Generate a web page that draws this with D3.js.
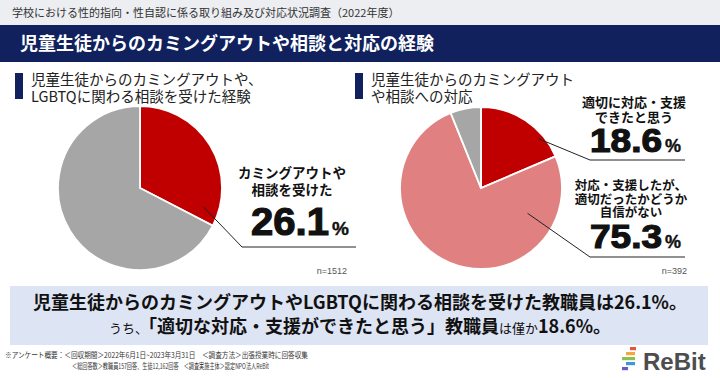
<!DOCTYPE html>
<html><head><meta charset="utf-8">
<script src="https://cdn.jsdelivr.net/npm/d3@7"></script>
<style>
html,body{margin:0;padding:0;background:#fff;}
svg{display:block;}
</style></head>
<body>
<svg id="c" width="720" height="378"></svg>
<script>
// ---------- data ----------
const topCaption = "学校における性的指向・性自認に係る取り組み及び対応状況調査（2022年度）";
const mainTitle = "児童生徒からのカミングアウトや相談と対応の経験";
const leftTitle = ["児童生徒からのカミングアウトや、", "LGBTQに関わる相談を受けた経験"];
const rightTitle = ["児童生徒からのカミングアウト", "や相談への対応"];
const leftCategories = ["カミングアウトや相談を受けた", "受けていない"];
const leftShares = [32.6, 67.4];          // slice sizes as drawn in the picture
const leftLabelLines = ["カミングアウトや", "相談を受けた"];
const leftValue = "26.1";
const leftN = "n=1512";
const rightCategories = ["適切に対応・支援できたと思う", "自信がない", "その他"];
const rightShares = [18.6, 75.3, 6.1];
const rightLabelLines1 = ["適切に対応・支援", "できたと思う"];
const rightValue1 = "18.6";
const rightLabelLines2 = ["対応・支援したが、", "適切だったかどうか", "自信がない"];
const rightValue2 = "75.3";
const rightN = "n=392";
const summary1 = "児童生徒からのカミングアウトやLGBTQに関わる相談を受けた教職員は26.1%。";
const summary2 = [["うち、", false], ["「適切な対応・支援ができたと思う」教職員", true], ["は僅か", false], ["18.6%。", true]];
const footer1 = "※アンケート概要：＜回収期間＞2022年6月1日~2023年3月31日　＜調査方法＞出張授業時に回答収集";
const footer2 = "＜総回答数＞教職員157回答、生徒12,162回答　＜調査実施主体＞認定NPO法人ReBit";

// ---------- styles ----------
const JP = "'Noto Sans CJK JP','Noto Sans',sans-serif";
const NUM = "'Liberation Sans',Arial,sans-serif";
const NAVY = "#10215e";
const svg = d3.select("#c");

// top caption band
svg.append("rect").attr("x",0).attr("y",0).attr("width",720).attr("height",25).attr("fill","#eceef2");
svg.append("text").attr("x",12).attr("y",17).attr("font-family",JP).attr("font-size",11)
  .attr("fill","#333").text(topCaption);
// navy title band
svg.append("rect").attr("x",0).attr("y",25).attr("width",720).attr("height",37).attr("fill",NAVY);
svg.append("text").attr("x",20).attr("y",50).attr("font-family",JP).attr("font-weight",700)
  .attr("font-size",18).attr("fill","#fff").text(mainTitle);

// section headers
function header(x, lines){
  svg.append("rect").attr("x",x).attr("y",73).attr("width",8).attr("height",26).attr("fill",NAVY);
  lines.forEach((l,i)=>svg.append("text").attr("x",x+16).attr("y",85+i*16.5)
    .attr("font-family",JP).attr("font-size",14.5).attr("fill","#222").text(l));
}
header(15, leftTitle);
header(355, rightTitle);

// ---------- pies ----------
const pie = d3.pie().sort(null).value(d=>d.v);
function drawPie(cx, cy, r, cats, shares, colors){
  const data = cats.map((c,i)=>({c, v:shares[i]}));
  const arcs = pie(data);
  const arc = d3.arc().innerRadius(0).outerRadius(r);
  const g = svg.append("g").attr("transform",`translate(${cx},${cy})`);
  g.selectAll("path").data(arcs).join("path").attr("d",arc)
    .attr("fill",(d,i)=>colors[i]).attr("stroke","#fff").attr("stroke-width",1.8);
  return arcs;
}
const leftArcs = drawPie(140, 188, 82, leftCategories, leftShares, ["#c00000","#a6a6a6"]);
const rightArcs = drawPie(481, 188, 81, rightCategories, rightShares, ["#c00000","#e08080","#a6a6a6"]);

function pointOn(cx, cy, r, a){ return [cx + r*Math.sin(a), cy - r*Math.cos(a)]; }
function leader(p, kneeX, y, endX){
  svg.append("path").attr("d",`M${p[0]},${p[1]}L${kneeX},${y}L${endX},${y}`)
    .attr("fill","none").attr("stroke","#222").attr("stroke-width",1);
}
leader(pointOn(140,188,66, leftArcs[0].endAngle - 0.19), 242, 247, 356);
leader(pointOn(481,188,76, rightArcs[0].endAngle - 0.3), 590, 160, 685);
leader(pointOn(481,188,53, rightArcs[1].startAngle + 0.9), 590, 257, 685);

function labelBlock(cx, y0, lh, fs, lines){
  lines.forEach((l,i)=>svg.append("text").attr("x",cx).attr("y",y0+i*lh).attr("text-anchor","middle")
    .attr("font-family",JP).attr("font-weight",700).attr("font-size",fs).attr("fill","#111").text(l));
}
function bigNumber(x, y, val, fs, w, pfs){
  svg.append("text").attr("x",x).attr("y",y).attr("font-family",NUM).attr("font-weight",700)
    .attr("font-size",fs).attr("fill","#111").attr("stroke","#111").attr("stroke-width",1.2)
    .attr("textLength",w).attr("lengthAdjust","spacingAndGlyphs").text(val);
  svg.append("text").attr("x",x+w+3).attr("y",y).attr("font-family",NUM).attr("font-weight",700)
    .attr("font-size",pfs).attr("fill","#111").attr("stroke","#111").attr("stroke-width",0.4).text("%");
}
labelBlock(292, 178, 17, 13.5, leftLabelLines);
bigNumber(251, 235, leftValue, 39, 78, 19);
labelBlock(634, 107, 15, 13, rightLabelLines1);
bigNumber(590, 152, rightValue1, 33, 72, 18);
labelBlock(631, 190, 13.5, 12.5, rightLabelLines2);
bigNumber(590, 248, rightValue2, 33, 72, 18);

svg.append("text").attr("x",347).attr("y",274).attr("text-anchor","end").attr("font-family",NUM)
  .attr("font-size",9).attr("fill","#555").text(leftN);
svg.append("text").attr("x",687).attr("y",274).attr("text-anchor","end").attr("font-family",NUM)
  .attr("font-size",9).attr("fill","#555").text(rightN);

// ---------- summary box ----------
svg.append("rect").attr("x",10).attr("y",286).attr("width",698).attr("height",59).attr("fill","#dde4f4");
svg.append("text").attr("x",360).attr("y",309).attr("text-anchor","middle").attr("font-family",JP)
  .attr("font-weight",700).attr("font-size",18).attr("fill","#111").text(summary1);
const t2 = svg.append("text").attr("x",360).attr("y",333).attr("text-anchor","middle").attr("font-family",JP).attr("fill","#111");
summary2.forEach(([s,b])=>t2.append("tspan").attr("font-weight",b?700:400).attr("font-size",b?18:13).text(s));

// ---------- footer ----------
svg.append("text").attr("x",5).attr("y",358).attr("font-family",JP).attr("font-size",7.5).attr("fill","#333")
  .attr("textLength",303).attr("lengthAdjust","spacingAndGlyphs").text(footer1);
svg.append("text").attr("x",72).attr("y",369).attr("font-family",JP).attr("font-size",7.5).attr("fill","#333")
  .attr("textLength",197).attr("lengthAdjust","spacingAndGlyphs").text(footer2);

// ReBit logo
const logoColors = ["#e8553a","#f2a93b","#8cc152","#3a9ad9","#6a5acd"];
const lg = svg.append("g").attr("transform","translate(622,347)");
logoColors.forEach((c,i)=>{
  const w = [6,9,13,9,6][i], x = [8,4,0,4,0][i];
  lg.append("rect").attr("x",x).attr("y",i*5).attr("width",w).attr("height",3.2).attr("fill",c);
});
svg.append("text").attr("x",643).attr("y",370).attr("font-family",NUM).attr("font-weight",700)
  .attr("font-size",24).attr("fill","#4d4d4d").text("ReBit");
</script>
</body></html>
